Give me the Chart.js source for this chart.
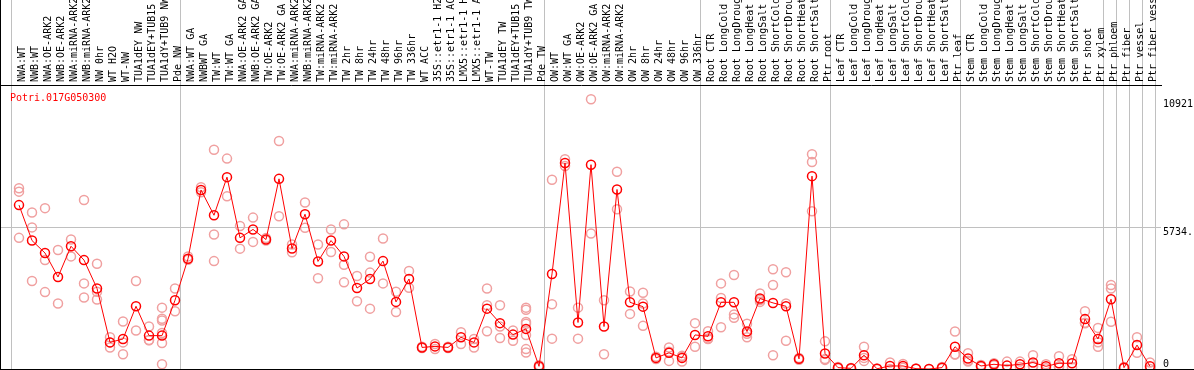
<!DOCTYPE html>
<html>
<head>
<meta charset="utf-8">
<script src="https://cdn.jsdelivr.net/npm/chart.js@4.4.1/dist/chart.umd.min.js"></script>
<style>
body { margin: 0; background: #fff; }
#wrap { position: relative; width: 1194px; height: 370px; box-sizing: border-box; border-left: 1px solid #000; border-bottom: 1px solid #000; }
#gene { position: absolute; left: 9px; top: 92px; font: 10px 'DejaVu Sans Mono', monospace; line-height: 12px; color: #ff0000; }
</style>
</head>
<body>
<div id="wrap">
  <canvas id="chart" width="1193" height="369"></canvas>
  <div id="gene">Potri.017G050300</div>
</div>
<script>
// sample names, in plot order
var labels = ["NWA:WT","NWB:WT","NWA:OE-ARK2","NWB:OE-ARK2","NWA:miRNA-ARK2","NWB:miRNA-ARK2","NW 0hr","WT H2O","WT-NW","TUA1dEY NW","TUA1dEY+TUB15 NW","TUA1dY+TUB9 NW","Pde NW",
  "NWA:WT GA","NWBWT GA","TW:WT","TW:WT GA","NWA:OE-ARK2 GA","NWB:OE-ARK2 GA","TW:OE-ARK2","TW:OE-ARK2 GA","NWA:miRNA-ARK2","NWB:miRNA-ARK2","TW:miRNA-ARK2","TW:miRNA-ARK2",
  "TW 2hr","TW 8hr","TW 24hr","TW 48hr","TW 96hr","TW 336hr","WT ACC","35S::etr1-1 H2O","35S::etr1-1 ACC","LMX5::etr1-1 H2O","LMX5::etr1-1 ACC","WT-TW","TUA1dEY TW","TUA1dEY+TUB15 TW","TUA1dY+TUB9 TW","Pde TW",
  "OW:WT","OW:WT GA","OW:OE-ARK2","OW:OE-ARK2 GA","OW:miRNA-ARK2","OW:miRNA-ARK2","OW 2hr","OW 8hr","OW 24hr","OW 48hr","OW 96hr","OW 336hr",
  "Root CTR","Root LongCold","Root LongDrought","Root LongHeat","Root LongSalt","Root ShortCold","Root ShortDrought","Root ShortHeat","Root ShortSalt","Ptr root",
  "Leaf CTR","Leaf LongCold","Leaf LongDrought","Leaf LongHeat","Leaf LongSalt","Leaf ShortCold","Leaf ShortDrought","Leaf ShortHeat","Leaf ShortSalt","Ptr leaf",
  "Stem CTR","Stem LongCold","Stem LongDrought","Stem LongHeat","Stem LongSalt","Stem ShortCold","Stem ShortDrought","Stem ShortHeat","Stem ShortSalt","Ptr shoot","Ptr xylem",
  "Ptr phloem","Ptr fiber","Ptr vessel","Ptr fiber vessel"];

// first sample index of each experiment group (separator lines)
var groupStarts = [0, 13, 41, 53, 63, 73, 84, 85, 86, 87, 88];

// mean expression per sample
var means = [6636,5202,4697,3727,4970,4410,3263,1078,1215,2540,1352,1352,2785,
  4465,7250,6226,7769,5311,5652,5243,7700,4880,6267,4356,5202,
  4560,3277,3645,4369,2717,3645,874,915,874,1283,1078,2444,1857,1393,1624,109,
  3850,8342,1884,8274,1720,7270,2700,2525,450,655,450,1379,
  1324,2700,2700,1515,2854,2676,2540,410,7810,628,
  55,27,560,10,123,123,14,0,55,901,
  423,123,191,137,191,260,109,232,232,2020,1215,
  2826,55,969,109];

// replicate values per sample
var reps = [[7318,7181,5311],[6335,5734,3563],[6513,4410,3113],[4820,2649],[5243,4560],[6840,3467,2894],[4260,3126,2812],[1283,1078,874],[1925,1078,600],[3563,1556],[1720,1174,1160],[2485,2034,1966,1461,1051,191],[3263,2335],
  [4560,4424],[7360,7154],[8875,5448,4369],[8520,6991],[5789,4874],[6131,5147],[5300,5200],[9229,6185],[4724,5040],[6745,5720],[5038,3672],[5652,4738],
  [5857,4219,3508],[3768,2744],[4547,3904,2444],[5284,3467],[3126,2307],[3973,3290],[900,850],[1010,805],[900,850],[1488,1010],[1215,874],[3263,2580,1529],[2580,1720,1256],[1556,1147],[2485,2400,1900,1830,1380,805,670],[150,70],
  [7660,2621,1229],[8492,8219],[2485,1229],[10921,5488],[2785,600],[7987,6472],[3140,2232],[3086,2649,1747],[500,400],[874,700,328],[532,300,500],[1857,901],
  [1529,1215,1230],[3467,2880,1693],[3809,2211,2075],[1830,1283,1430],[3058,2717,2790],[4040,3400,560],[3918,2649,1147],[450,370],[8697,8383,6389],[1120,369,400],
  [80,30],[40,15],[901,328,450],[20,0],[260,0],[200,50],[20,10],[0],[80,30],[1515,600,590],
  [642,300,330],[160,90],[230,150],[300,0],[300,80],[560,123,100],[191,30],[519,80,100],[396,70],[2335,1870,1850],[1665,901,1080],
  [3400,3263,1911],[80,30],[1283,655],[260,0]];

// value axis marks
var yTicks = [0, 5734, 10921];
var yTickLabels = ["0", "5734.", "10921"];

var monoFont = { family: "'DejaVu Sans Mono', monospace", size: 10, lineHeight: 1 };

var meanPoints = means.map(function (v, i) { return { x: i, y: v }; });
var repPoints = [];
for (i = 0; i < reps.length; i++) {
  for (j = 0; j < reps[i].length; j++) {
    repPoints.push({ x: i, y: reps[i][j] });
  }
}

// no extra room for overhanging tick labels
function noPadding(scale) {
  scale.paddingLeft = 0;
  scale.paddingRight = 0;
  scale.paddingTop = 0;
  scale.paddingBottom = 0;
}

var ctx = document.getElementById('chart').getContext('2d');
var myChart = new Chart(ctx, {
  type: 'scatter',
  data: {
    datasets: [{
      label: 'mean',
      data: meanPoints,
      showLine: true,
      borderColor: '#ff0000',
      borderWidth: 1,
      pointRadius: 4.5,
      pointBorderWidth: 1.5,
      pointBorderColor: '#ff0000',
      pointBackgroundColor: 'rgba(0,0,0,0)'
    }, {
      label: 'replicates',
      data: repPoints,
      showLine: false,
      pointRadius: 4.5,
      pointBorderWidth: 1.5,
      pointBorderColor: '#f0a0a0',
      pointBackgroundColor: 'rgba(0,0,0,0)'
    }]
  },
  options: {
    responsive: false,
    animation: false,
    devicePixelRatio: 1,
    layout: { padding: 0, autoPadding: false },
    plugins: { legend: { display: false }, tooltip: { enabled: false } },
    scales: {
      x: {
        type: 'linear',
        position: 'top',
        min: -1.385,
        max: 87.846,
        afterBuildTicks: function (scale) {
          var t = labels.map(function (_, i) { return { value: i }; });
          groupStarts.forEach(function (s) { t.push({ value: s - 0.55 }); });
          scale.ticks = t;
        },
        afterFit: function (scale) { scale.height = 85; noPadding(scale); },
        ticks: {
          autoSkip: false,
          minRotation: 90,
          maxRotation: 90,
          padding: -82,
          labelOffset: 13,
          color: '#000',
          font: monoFont,
          callback: function (value) {
            return Number.isInteger(value) ? labels[value] : '';
          }
        },
        grid: {
          drawTicks: true,
          tickLength: 85,
          lineWidth: 1,
          color: function (c) {
            return Number.isInteger(c.tick.value) ? 'rgba(0,0,0,0)' : '#c0c0c0';
          }
        },
        border: { display: true, color: '#000', width: 1 }
      },
      y: {
        position: 'right',
        min: 0,
        max: 11500,
        afterBuildTicks: function (scale) {
          scale.ticks = yTicks.map(function (v) { return { value: v }; });
        },
        afterFit: function (scale) { scale.width = 33; noPadding(scale); },
        ticks: {
          padding: 2,
          color: '#000',
          font: monoFont,
          callback: function (value) {
            var txt = yTickLabels[yTicks.indexOf(value)];
            return value === 0 ? [txt, ''] : ['', txt];
          }
        },
        grid: {
          drawTicks: false,
          color: function (c) { return c.tick.value === 5734 ? '#c0c0c0' : 'rgba(0,0,0,0)'; }
        },
        border: { display: false }
      }
    }
  }
});
</script>
</body>
</html>
